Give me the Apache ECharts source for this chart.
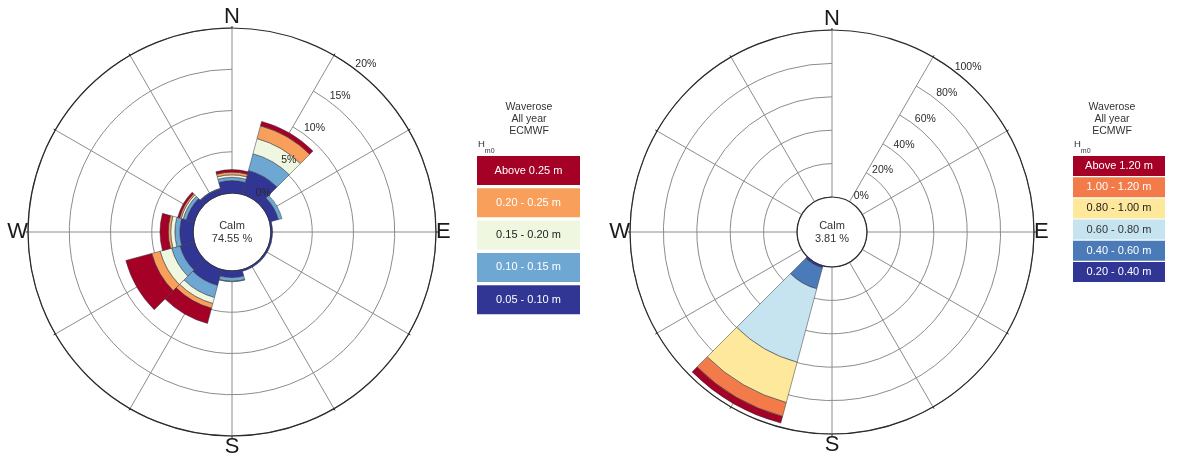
<!DOCTYPE html>
<html>
<head>
<meta charset="utf-8">
<script src="https://cdn.jsdelivr.net/npm/echarts@6/dist/echarts.min.js"></script>
<style>
  html, body { margin: 0; padding: 0; background: #fff; }
  #chart { width: 1178px; height: 455px; }
</style>
</head>
<body>
<div id="chart"></div>
<script>
// 30-degree direction sectors, clockwise from north
const directions = ['N', '30', '60', 'E', '120', '150', 'S', '210', '240', 'W', '300', '330'];

// Left rose: share of time (%) per direction for each Hm0 class
const leftBins = ['0.05 - 0.10 m', '0.10 - 0.15 m', '0.15 - 0.20 m', '0.20 - 0.25 m', 'Above 0.25 m'];
const left_005_010 = [1.5, 3.0, 1.1, 0.2, 0.2, 0.2, 0.8, 2.0, 1.8, 1.6, 1.0, 0.7];
const left_010_015 = [0.4, 2.1, 0.45, 0, 0, 0, 0.45, 1.5, 1.05, 0.6, 0.4, 0.05];
const left_015_020 = [0.3, 1.9, 0, 0, 0, 0, 0.05, 0.75, 1.45, 0.5, 0.25, 0];
const left_020_025 = [0.33, 1.6, 0, 0, 0, 0, 0, 0.6, 1.05, 0.3, 0.2, 0];
const left_above_025 = [0.3, 0.55, 0, 0, 0, 0, 0, 1.9, 3.25, 1.0, 0.25, 0];
const leftCalm = 74.55;
const leftRingTicks = [0, 5, 10, 15, 20];

// Right rose: share of time (%) per direction for each Hm0 class
const rightBins = ['0.20 - 0.40 m', '0.40 - 0.60 m', '0.60 - 0.80 m', '0.80 - 1.00 m', '1.00 - 1.20 m', 'Above 1.20 m'];
const right_020_040 = [0, 0, 0, 0, 0, 0, 0, 1.2, 0, 0, 0, 0];
const right_040_060 = [0, 0, 0, 0, 0, 0, 0, 13.1, 0, 0, 0, 0];
const right_060_080 = [0, 0, 0, 0, 0, 0, 0, 45.5, 0, 0, 0, 0];
const right_080_100 = [0, 0, 0, 0, 0, 0, 0, 25.0, 0, 0, 0, 0];
const right_100_120 = [0, 0, 0, 0, 0, 0, 0, 8.6, 0, 0, 0, 0];
const right_above_120 = [0, 0, 0, 0, 0, 0, 0, 4.1, 0, 0, 0, 0];
const rightCalm = 3.81;
const rightRingTicks = [0, 20, 40, 60, 80, 100];

const legendTitle = ['Waverose', 'All year', 'ECMWF'];

// ---- styling ----
const leftColors = ['#313695', '#6fa7d3', '#eff7e0', '#f99f5c', '#a50026'];
const leftTextColors = ['#ffffff', '#ffffff', '#222222', '#ffffff', '#ffffff'];
const rightColors = ['#313695', '#4a7ab8', '#c6e4f0', '#fde89b', '#f37b4a', '#a50026'];
const rightTextColors = ['#ffffff', '#ffffff', '#333333', '#222222', '#ffffff', '#ffffff'];

const FONT = '"Liberation Sans", Arial, Helvetica, sans-serif';
const GRID = '#8c8c8c';

// categories start at the 30-degree spoke
const rot = arr => arr.slice(1).concat(arr.slice(0, 1));
const cats = rot(directions);
const cardinal = { N: 'N', E: 'E', S: 'S', W: 'W' };

const roses = [
  { center: [232, 232], radius: [39, 204], labelRadius: [50, 215], labelAngle: 51.5,
    ticks: leftRingTicks, calm: leftCalm,
    series: [left_005_010, left_010_015, left_015_020, left_020_025, left_above_025],
    bins: leftBins, colors: leftColors, textColors: leftTextColors,
    legend: { x: 477, w: 103, top: 156, h: 29, pitch: 32.3, cx: 529 } },
  { center: [832, 232], radius: [35, 202], labelRadius: [46, 214], labelAngle: 50.5,
    ticks: rightRingTicks, calm: rightCalm,
    series: [right_020_040, right_040_060, right_060_080, right_080_100, right_100_120, right_above_120],
    bins: rightBins, colors: rightColors, textColors: rightTextColors,
    legend: { x: 1073, w: 92, top: 156, h: 20, pitch: 21.2, cx: 1112 } }
];

const polar = [], angleAxis = [], radiusAxis = [], series = [], graphic = [];

roses.forEach((r, i) => {
  const tMin = r.ticks[0], tMax = r.ticks[r.ticks.length - 1], step = r.ticks[1] - r.ticks[0];
  // main polar (grid + bars) and a label polar carrying the ring labels above the bars
  polar.push({ center: r.center, radius: r.radius });
  polar.push({ center: r.center, radius: r.labelRadius });
  const main = 2 * i, over = 2 * i + 1;

  angleAxis.push({
    polarIndex: main, type: 'category', data: cats, boundaryGap: false,
    startAngle: 60, clockwise: true, z: 0,
    axisLine: { show: true, lineStyle: { color: '#2b2b2b', width: 1.2 } },
    axisTick: { show: true, length: 2, lineStyle: { color: '#2b2b2b' } },
    axisLabel: {
      interval: 0, margin: 0, fontSize: 22, color: '#1a1a1a', fontFamily: FONT,
      formatter: v => cardinal[v] || ''
    },
    splitLine: { show: true, lineStyle: { color: GRID, width: 1 } }
  });
  radiusAxis.push({
    polarIndex: main, type: 'value', min: tMin, max: tMax, interval: step, z: 0,
    axisLine: { show: false }, axisTick: { show: false }, axisLabel: { show: false },
    splitLine: { show: true, lineStyle: { color: GRID, width: 1 } }
  });

  angleAxis.push({
    polarIndex: over, type: 'value', min: 0, max: 360,
    startAngle: r.labelAngle, clockwise: true,
    axisLine: { show: false }, axisTick: { show: false }, axisLabel: { show: false },
    splitLine: { show: false }
  });
  radiusAxis.push({
    polarIndex: over, type: 'value', min: tMin, max: tMax, interval: step, z: 10,
    axisLine: { show: false }, axisTick: { show: false }, splitLine: { show: false },
    axisLabel: {
      show: true, margin: 0, align: 'center', verticalAlign: 'middle',
      fontSize: 10.5, color: '#2a2a2a', fontFamily: FONT,
      formatter: v => v + '%'
    }
  });

  r.series.forEach((vals, k) => {
    series.push({
      type: 'bar', coordinateSystem: 'polar', polarIndex: main,
      name: r.bins[k], stack: 'rose' + i, barCategoryGap: '0%',
      data: rot(vals).map(v => (v > 0 ? v : null)), silent: true, z: 2,
      itemStyle: { color: r.colors[k], borderColor: '#33343f', borderWidth: 0.5 }
    });
  });

  // calm share in the centre
  graphic.push({
    type: 'text', x: r.center[0], y: r.center[1], z: 20,
    style: { text: 'Calm\n' + r.calm.toFixed(2) + ' %', fill: '#333', font: '11px ' + FONT,
      align: 'center', verticalAlign: 'middle', lineHeight: 13 }
  });

  // class key
  const L = r.legend;
  graphic.push({
    type: 'text', x: L.cx, y: 101,
    style: { text: legendTitle.join('\n'), fill: '#333', font: '10.5px ' + FONT,
      align: 'center', verticalAlign: 'top', lineHeight: 12 }
  });
  graphic.push({
    type: 'text', x: L.x + 1, y: 139,
    style: { text: '{h|H}{s|m0}', rich: {
      h: { fontSize: 9.5, fontFamily: FONT, fill: '#333', verticalAlign: 'top' },
      s: { fontSize: 7, fontFamily: FONT, fill: '#333', padding: [9, 0, 0, 0], verticalAlign: 'top' } } }
  });
  const n = r.bins.length;
  for (let k = 0; k < n; k++) {
    const idx = n - 1 - k; // highest class on top
    const y = L.top + k * L.pitch;
    graphic.push({ type: 'rect', shape: { x: L.x, y: y, width: L.w, height: L.h },
      style: { fill: r.colors[idx] } });
    graphic.push({ type: 'text', x: L.x + L.w / 2, y: y + L.h / 2,
      style: { text: r.bins[idx], fill: r.textColors[idx], font: '11px ' + FONT,
        align: 'center', verticalAlign: 'middle' } });
  }
});

const chart = echarts.init(document.getElementById('chart'), null, { renderer: 'canvas' });
chart.setOption({
  animation: false,
  backgroundColor: '#ffffff',
  polar, angleAxis, radiusAxis, series, graphic
});
</script>
</body>
</html>
